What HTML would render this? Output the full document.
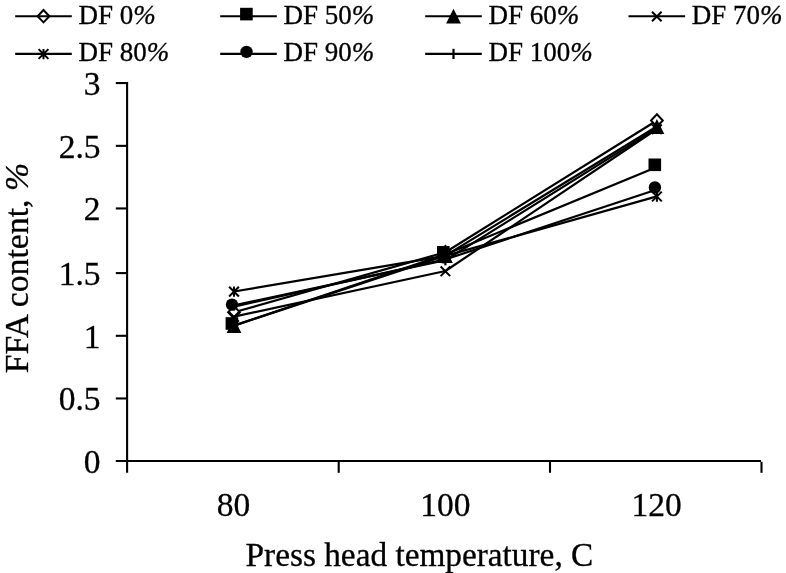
<!DOCTYPE html>
<html><head><meta charset="utf-8"><title>FFA content chart</title>
<style>
html,body{margin:0;padding:0;background:#fff;}
body{width:786px;height:573px;overflow:hidden;}
svg{display:block;}
text{font-family:"Liberation Serif","Times New Roman",serif;fill:#000;stroke:#000;stroke-width:0.3px;}
.ax{font-size:33.5px;}
.tx{font-size:33.3px;}
.ty{font-size:33.75px;}
.lg{font-size:27px;}
.i{font-style:italic;}
</style></head><body>
<svg width="786" height="573" viewBox="0 0 786 573">
<rect width="786" height="573" fill="#fff"/>

<g stroke="#000" stroke-width="2.1" fill="none">
<path d="M127.1 82V472.8"/>
<path d="M115.8 461.05H761"/>
<path d="M115.8 398.45H127"/>
<path d="M115.8 335.8H127"/>
<path d="M115.8 273.1H127"/>
<path d="M115.8 208.45H127"/>
<path d="M115.8 145.85H127"/>
<path d="M115.8 83.05H127"/>
<path d="M338.7 461V472.8"/>
<path d="M550 461V472.8"/>
<path d="M761.5 461.8V472.8"/>
</g>
<text class="ax" transform="translate(100.5 472.95) scale(1 1.03)" text-anchor="end">0</text>
<text class="ax" transform="translate(100.5 410.35) scale(1 1.03)" text-anchor="end">0.5</text>
<text class="ax" transform="translate(100.5 347.70) scale(1 1.03)" text-anchor="end">1</text>
<text class="ax" transform="translate(100.5 285.00) scale(1 1.03)" text-anchor="end">1.5</text>
<text class="ax" transform="translate(100.5 220.35) scale(1 1.03)" text-anchor="end">2</text>
<text class="ax" transform="translate(100.5 157.75) scale(1 1.03)" text-anchor="end">2.5</text>
<text class="ax" transform="translate(100.5 94.95) scale(1 1.03)" text-anchor="end">3</text>
<text class="ax" transform="translate(233.6 516.1) scale(1 1.03)" text-anchor="middle">80</text>
<text class="ax" transform="translate(445.4 516.1) scale(1 1.03)" text-anchor="middle">100</text>
<text class="ax" transform="translate(656.7 516.1) scale(1 1.03)" text-anchor="middle">120</text>
<text class="tx" x="245.6" y="566.4">Press head temperature, C</text>
<text class="ty" transform="translate(28.3 373.3) rotate(-90)">FFA content, <tspan class="i">%</tspan></text>
<polyline points="234.0,312.3 445.4,252.2 656.9,120.5" stroke="#000" stroke-width="2.2" fill="none" stroke-linejoin="round"/>
<path d="M234.0 306.1L239.9 312.3L234.0 318.5L228.1 312.3Z" fill="#fff" stroke="#000" stroke-width="2"/>
<path d="M445.4 246.0L451.3 252.2L445.4 258.4L439.5 252.2Z" fill="#fff" stroke="#000" stroke-width="2"/>
<path d="M656.9 114.3L662.8 120.5L656.9 126.7L651.0 120.5Z" fill="#fff" stroke="#000" stroke-width="2"/>
<polyline points="234.0,325.6 445.4,254.4 656.9,166.9" stroke="#000" stroke-width="2.2" fill="none" stroke-linejoin="round"/>
<rect x="225.6" y="317.2" width="12.6" height="12.6" fill="#000"/>
<rect x="437.0" y="246.0" width="12.6" height="12.6" fill="#000"/>
<rect x="648.5" y="158.5" width="12.6" height="12.6" fill="#000"/>
<polyline points="234.0,325.6 445.4,255.6 656.9,126.5" stroke="#000" stroke-width="2.2" fill="none" stroke-linejoin="round"/>
<path d="M234.0 318.2L241.4 332.9L226.6 332.9Z" fill="#000"/>
<path d="M445.4 248.2L452.8 263.0L438.0 263.0Z" fill="#000"/>
<path d="M656.9 119.1L664.3 133.9L649.5 133.9Z" fill="#000"/>
<polyline points="234.0,316.7 445.4,271.0 656.9,129.0" stroke="#000" stroke-width="2.2" fill="none" stroke-linejoin="round"/>
<path d="M229.2 312.2L238.8 321.8M229.2 321.8L238.8 312.2" stroke="#000" stroke-width="2" fill="none"/>
<path d="M440.6 266.5L450.2 276.1M440.6 276.1L450.2 266.5" stroke="#000" stroke-width="2" fill="none"/>
<path d="M652.1 124.5L661.7 134.1M652.1 134.1L661.7 124.5" stroke="#000" stroke-width="2" fill="none"/>
<polyline points="234.0,291.5 445.4,255.9 656.9,196.4" stroke="#000" stroke-width="2.2" fill="none" stroke-linejoin="round"/>
<path d="M229.1 286.7L238.9 296.5M229.1 296.5L238.9 286.7M234.0 286.5L234.0 296.8" stroke="#000" stroke-width="2" fill="none"/>
<path d="M440.5 251.1L450.3 260.9M440.5 260.9L450.3 251.1M445.4 250.9L445.4 261.2" stroke="#000" stroke-width="2" fill="none"/>
<path d="M652.0 191.6L661.8 201.4M652.0 201.4L661.8 191.6M656.9 191.4L656.9 201.7" stroke="#000" stroke-width="2" fill="none"/>
<polyline points="234.0,306.6 445.4,259.4 656.9,189.5" stroke="#000" stroke-width="2.2" fill="none" stroke-linejoin="round"/>
<circle cx="232.0" cy="304.6" r="6.2" fill="#000"/>
<circle cx="443.4" cy="257.4" r="6.2" fill="#000"/>
<circle cx="654.9" cy="187.5" r="6.2" fill="#000"/>
<polyline points="234.0,305.4 445.4,260.2 656.9,128.4" stroke="#000" stroke-width="2.2" fill="none" stroke-linejoin="round"/>
<path d="M234.0 300.3L234.0 310.5" stroke="#000" stroke-width="2.2" fill="none"/>
<path d="M445.4 255.1L445.4 265.3" stroke="#000" stroke-width="2.2" fill="none"/>
<path d="M656.9 123.3L656.9 133.5" stroke="#000" stroke-width="2.2" fill="none"/>
<path d="M43.5 10.0L49.4 16.2L43.5 22.4L37.6 16.2Z" fill="#fff" stroke="#000" stroke-width="2"/>
<path d="M15.2 16.2H71.8" stroke="#000" stroke-width="2.1"/>
<text class="lg" x="78.4" y="23.85">DF 0<tspan class="i">%</tspan></text>
<path d="M220.2 16.2H276.8" stroke="#000" stroke-width="2.1"/>
<rect x="240.1" y="7.8" width="12.6" height="12.6" fill="#000"/>
<text class="lg" x="283.4" y="23.85">DF 50<tspan class="i">%</tspan></text>
<path d="M425.2 16.2H481.8" stroke="#000" stroke-width="2.1"/>
<path d="M453.5 8.8L460.9 23.6L446.1 23.6Z" fill="#000"/>
<text class="lg" x="488.4" y="23.85">DF 60<tspan class="i">%</tspan></text>
<path d="M628.5 16.2H685.1" stroke="#000" stroke-width="2.1"/>
<path d="M652.0 11.7L661.6 21.3M652.0 21.3L661.6 11.7" stroke="#000" stroke-width="2" fill="none"/>
<text class="lg" x="691.7" y="23.85">DF 70<tspan class="i">%</tspan></text>
<path d="M15.2 53.9H71.8" stroke="#000" stroke-width="2.1"/>
<path d="M38.6 49.1L48.4 58.9M38.6 58.9L48.4 49.1M43.5 48.9L43.5 59.2" stroke="#000" stroke-width="2" fill="none"/>
<text class="lg" x="78.4" y="60.75">DF 80<tspan class="i">%</tspan></text>
<path d="M220.2 53.9H276.8" stroke="#000" stroke-width="2.1"/>
<circle cx="246.5" cy="51.9" r="6.2" fill="#000"/>
<text class="lg" x="283.4" y="60.75">DF 90<tspan class="i">%</tspan></text>
<path d="M425.2 53.9H481.8" stroke="#000" stroke-width="2.1"/>
<path d="M453.5 48.8L453.5 59.0" stroke="#000" stroke-width="2.2" fill="none"/>
<text class="lg" x="488.4" y="60.75">DF 100<tspan class="i">%</tspan></text>
</svg></body></html>
